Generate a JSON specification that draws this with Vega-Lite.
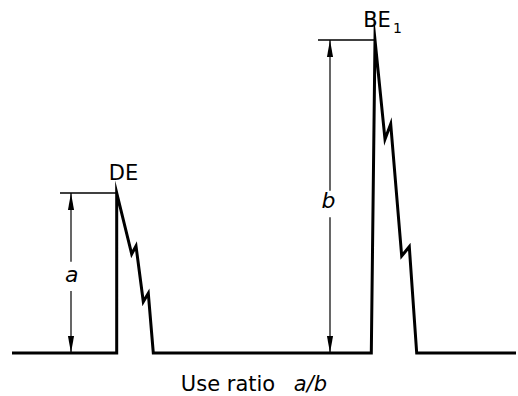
{
  "$schema": "https://vega.github.io/schema/vega-lite/v6.json",
  "width": 518,
  "height": 396,
  "padding": 0,
  "autosize": {"type": "none"},
  "background": "white",
  "config": {"view": {"stroke": null}},
  "encoding": {
    "x": {"field": "x", "type": "quantitative", "scale": {"domain": [0, 518], "nice": false, "zero": false}, "axis": null},
    "y": {"field": "y", "type": "quantitative", "scale": {"domain": [-43, 353], "nice": false, "zero": false}, "axis": null}
  },
  "layer": [
    {
      "data": {"values": [
        {"i": 0, "x": 12, "y": 0},
        {"i": 1, "x": 116.7, "y": 0},
        {"i": 2, "x": 116.7, "y": 160},
        {"i": 3, "x": 131.7, "y": 99},
        {"i": 4, "x": 136, "y": 107},
        {"i": 5, "x": 143.3, "y": 51.3},
        {"i": 6, "x": 148.3, "y": 59.7},
        {"i": 7, "x": 153.3, "y": 0},
        {"i": 8, "x": 371.3, "y": 0},
        {"i": 9, "x": 375, "y": 313},
        {"i": 10, "x": 385, "y": 213.7},
        {"i": 11, "x": 390.7, "y": 229},
        {"i": 12, "x": 401.7, "y": 97},
        {"i": 13, "x": 409.3, "y": 106.3},
        {"i": 14, "x": 416.7, "y": 0},
        {"i": 15, "x": 516, "y": 0}
      ]},
      "mark": {"type": "line", "color": "black", "strokeWidth": 3, "strokeJoin": "miter", "strokeMiterLimit": 20},
      "encoding": {"order": {"field": "i", "type": "quantitative"}}
    },
    {
      "data": {"values": [
        {"x": 60, "x2": 116.7, "y": 160},
        {"x": 318, "x2": 375, "y": 313}
      ]},
      "mark": {"type": "rule", "color": "black", "strokeWidth": 1.5},
      "encoding": {"x2": {"field": "x2"}}
    },
    {
      "data": {"values": [
        {"x": 71, "y": 160, "y2": 91.3},
        {"x": 71, "y": 62, "y2": 0},
        {"x": 330, "y": 313, "y2": 162.3},
        {"x": 330, "y": 135.7, "y2": 0}
      ]},
      "mark": {"type": "rule", "color": "black", "strokeWidth": 1.2},
      "encoding": {"y2": {"field": "y2"}}
    },
    {
      "data": {"values": [
        {"x": 71, "y": 151.5, "dir": 0},
        {"x": 71, "y": 8.5, "dir": 180},
        {"x": 330, "y": 304.5, "dir": 0},
        {"x": 330, "y": 8.5, "dir": 180}
      ]},
      "mark": {"type": "point", "shape": "M0,-1L-0.36,1L0.36,1Z", "filled": true, "color": "black", "opacity": 1, "size": 289, "strokeWidth": 0},
      "encoding": {"angle": {"field": "dir", "type": "quantitative", "scale": null}}
    },
    {
      "data": {"values": [
        {"x": 123.5, "y": 173, "label": "DE"},
        {"x": 377, "y": 325.7, "label": "BE"},
        {"x": 228, "y": -37.5, "label": "Use ratio"}
      ]},
      "mark": {"type": "text", "font": "DejaVu Sans", "fontSize": 21, "align": "center", "baseline": "alphabetic", "color": "black"},
      "encoding": {"text": {"field": "label"}}
    },
    {
      "data": {"values": [
        {"x": 397.5, "y": 320, "label": "1"}
      ]},
      "mark": {"type": "text", "font": "DejaVu Sans", "fontSize": 14, "align": "center", "baseline": "alphabetic", "color": "black"},
      "encoding": {"text": {"field": "label"}}
    },
    {
      "data": {"values": [
        {"x": 310.5, "y": -37.5, "label": "a/b"}
      ]},
      "mark": {"type": "text", "font": "DejaVu Sans", "fontSize": 21, "fontStyle": "italic", "align": "center", "baseline": "alphabetic", "color": "black"},
      "encoding": {"text": {"field": "label"}}
    },
    {
      "data": {"values": [
        {"x": 71.7, "y": 71, "label": "a"},
        {"x": 328.5, "y": 145.3, "label": "b"}
      ]},
      "mark": {"type": "text", "font": "DejaVu Sans", "fontSize": 22, "fontStyle": "italic", "align": "center", "baseline": "alphabetic", "color": "black"},
      "encoding": {"text": {"field": "label"}}
    }
  ]
}
